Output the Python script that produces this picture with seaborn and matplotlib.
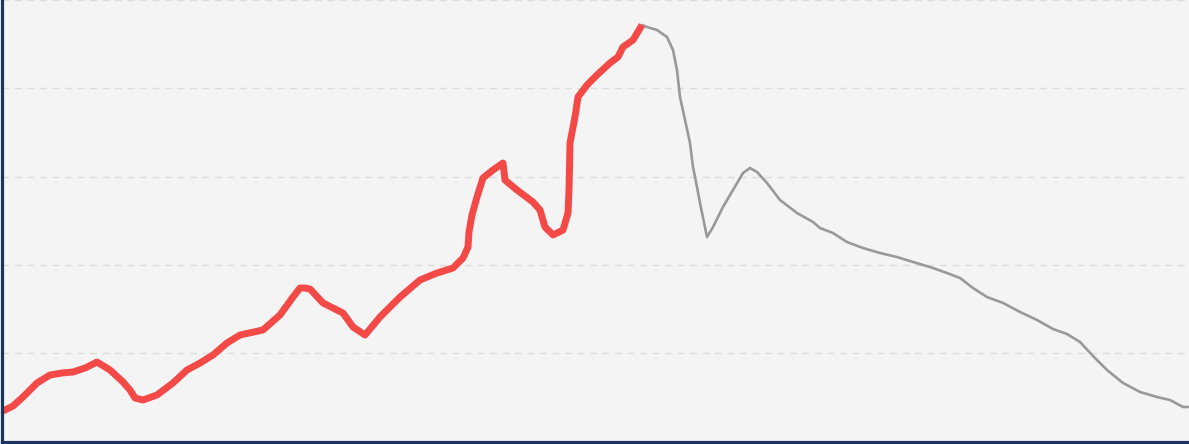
import numpy as np
import pandas as pd
import matplotlib
matplotlib.use("Agg")
import matplotlib.pyplot as plt
import seaborn as sns

# series (x = step, y = value)
steps = [0, 10, 20, 29, 34, 47, 59, 70, 82, 94, 107, 120, 127, 132, 140, 154,
         170, 184, 197, 210, 224, 237, 260, 277, 290, 297, 302, 307, 320, 340,
         350, 362, 377, 397, 417, 434, 450, 460, 465, 466, 469, 474, 480, 490,
         500, 502, 514, 530, 537, 542, 550, 560, 565, 566, 566.5, 567, 572, 575,
         584, 594, 607, 615, 620, 630, 639,
         644, 654, 664, 670, 674, 677, 682, 687, 690, 694, 697, 704, 710, 720,
         730, 740, 747, 754, 764, 777, 794, 810, 817, 830, 844, 860, 877, 894,
         910, 927, 944, 957, 970, 984, 1000, 1017, 1034, 1050, 1064, 1077, 1090,
         1104, 1120, 1137, 1154, 1167, 1180, 1185]
values = [0.345, 0.402, 0.504, 0.606, 0.663, 0.753, 0.776, 0.787, 0.832, 0.900,
          0.810, 0.674, 0.583, 0.493, 0.470, 0.527, 0.663, 0.810, 0.889, 0.980,
          1.116, 1.206, 1.263, 1.433, 1.636, 1.738, 1.738, 1.727, 1.569, 1.455,
          1.297, 1.206, 1.410, 1.636, 1.829, 1.908, 1.965, 2.078, 2.203, 2.373,
          2.565, 2.769, 2.984, 3.075, 3.154, 2.961, 2.848, 2.712, 2.622, 2.429,
          2.339, 2.395, 2.588, 2.848, 3.109, 3.381, 3.675, 3.902, 4.037, 4.151,
          4.287, 4.355, 4.468, 4.547, 4.717,
          4.694, 4.660, 4.581, 4.434, 4.207, 3.902, 3.641, 3.381, 3.109, 2.882,
          2.701, 2.316, 2.429, 2.656, 2.848, 3.041, 3.097, 3.052, 2.928, 2.735,
          2.588, 2.486, 2.418, 2.361, 2.259, 2.191, 2.135, 2.089, 2.033, 1.976,
          1.908, 1.852, 1.738, 1.636, 1.569, 1.467, 1.376, 1.274, 1.217, 1.127,
          0.968, 0.810, 0.663, 0.561, 0.504, 0.470, 0.391, 0.391]
highlight_end = 64  # last point of the red part

df = pd.DataFrame({"step": steps, "value": values})
df_red = df.iloc[:highlight_end + 1]
df_gray = df.iloc[highlight_end:]

sns.set_theme(style="white")
fig = plt.figure(figsize=(11.89, 4.44), dpi=100)
fig.patch.set_facecolor("#f4f4f4")
ax = fig.add_axes([1.5 / 1189, 2.5 / 444, 1 - 1.5 / 1189, 1 - 2.5 / 444])
ax.set_facecolor("#f4f4f4")

sns.lineplot(data=df_gray, x="step", y="value", estimator=None, sort=False,
             color="#999999", linewidth=1.9, ax=ax)
sns.lineplot(data=df_red, x="step", y="value", estimator=None, sort=False,
             color="#f44a47", linewidth=5, solid_joinstyle="round",
             solid_capstyle="butt", ax=ax)

ax.set_xlim(-1.5, 1186)
ax.set_ylim(0, 5)
ax.set_yticks([0, 1, 2, 3, 4, 5])
ax.yaxis.grid(True, linestyle=(0, (5, 4)), color="#dcdcdc", linewidth=1)
ax.set_axisbelow(True)
ax.set_xticks([])
ax.set_yticklabels([])
ax.tick_params(left=False, bottom=False)
ax.set_xlabel("")
ax.set_ylabel("")

for side in ["top", "right"]:
    ax.spines[side].set_visible(False)
for side in ["left", "bottom"]:
    ax.spines[side].set_color("#1d3461")
    ax.spines[side].set_linewidth(2.3)

fig.savefig("out.png", dpi=100, facecolor=fig.get_facecolor())
